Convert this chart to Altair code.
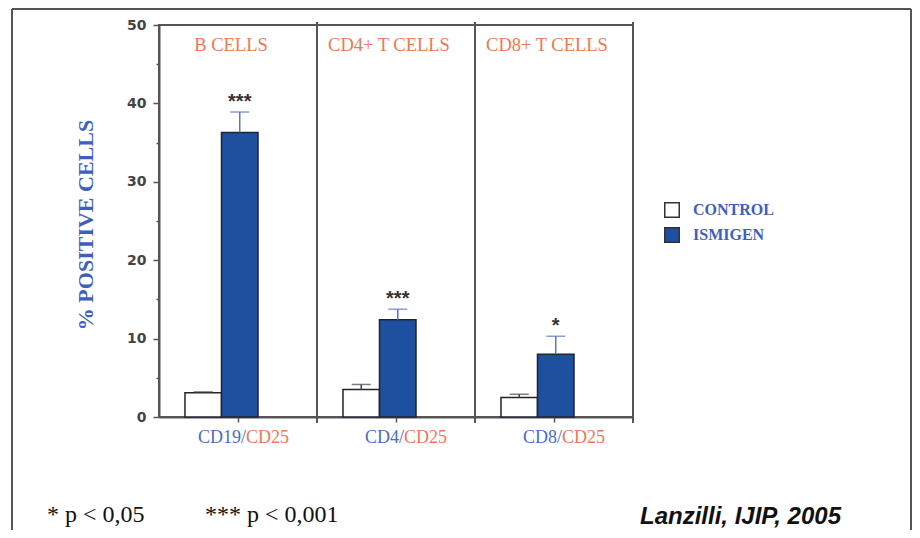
import altair as alt
import pandas as pd

# ---- data ----
groups = ["B CELLS", "CD4+ T CELLS", "CD8+ T CELLS"]
label_a = ["CD19/", "CD4/", "CD8/"]
label_b = ["CD25", "CD25", "CD25"]
series = ["CONTROL", "ISMIGEN"]
control_vals = [3.1, 3.5, 2.5]
control_err = [0.1, 0.65, 0.4]
ismigen_vals = [36.3, 12.4, 8.0]
ismigen_err = [2.6, 1.35, 2.3]
signif = ["***", "***", "*"]
y_ticks = [0, 5, 10, 15, 20, 25, 30, 35, 40, 45, 50]
y_title = "% POSITIVE CELLS"
footnote_1 = "* p < 0,05"
footnote_2 = "*** p < 0,001"
source = "Lanzilli, IJIP, 2005"

rows = []
for i, g in enumerate(groups):
    rows.append({"group": g, "series": "CONTROL", "value": control_vals[i],
                 "err": control_err[i], "sig": "", "la": label_a[i], "lb": label_b[i]})
    rows.append({"group": g, "series": "ISMIGEN", "value": ismigen_vals[i],
                 "err": ismigen_err[i], "sig": signif[i], "la": label_a[i], "lb": label_b[i]})
df = pd.DataFrame(rows)
df["top"] = df["value"] + df["err"]
gdf = pd.DataFrame({"group": groups, "la": label_a, "lb": label_b})

W, H = 474, 392
AX = "#555555"
BLUE_TXT = "#3F5FC0"
ORANGE = "#F07850"
SERIF = "Liberation Serif"

x_scale = alt.Scale(domain=groups, paddingInner=0, paddingOuter=0)
x_axis = alt.Axis(labels=False, title=None, ticks=True, tickSize=5,
                  tickColor=AX, tickWidth=1.5, domainColor=AX, domainWidth=2)
x_enc = alt.X("group:N", sort=groups, scale=x_scale, axis=x_axis)
# third, empty slot keeps the bar pair left of the panel centre, as in the reference
xo_enc = alt.XOffset("series:N",
                     scale=alt.Scale(domain=series + ["_"], paddingInner=0,
                                     paddingOuter=0.664, align=0.536))
y_scale = alt.Scale(domain=[0, 50], nice=False, zero=True)
y_axis = alt.Axis(values=y_ticks, title=None,
                  labelExpr="datum.value % 10 === 0 ? datum.label : ''",
                  tickSize={"condition": {"test": "datum.value % 10 === 0", "value": 6}, "value": 3},
                  tickColor=AX, tickWidth=1.5, domainColor=AX, domainWidth=2,
                  labelFont="DejaVu Sans", labelFontSize=14, labelFontWeight="bold",
                  labelColor="#444444", labelPadding=7, grid=False)

base = alt.Chart(df)

dividers = alt.Chart(gdf).mark_rule(color=AX, strokeWidth=2).encode(
    x=alt.X("group:N", sort=groups, bandPosition=1, scale=x_scale, axis=x_axis),
    y=alt.value(-3), y2=alt.value(H + 6))

bars = base.mark_bar(stroke="#222233", strokeWidth=1.5).encode(
    x=x_enc, xOffset=xo_enc,
    y=alt.Y("value:Q", scale=y_scale, axis=y_axis),
    fill=alt.Fill("series:N",
                  scale=alt.Scale(domain=series, range=["#FFFFFF", "#1E50A0"]),
                  legend=alt.Legend(title=None, orient="none", legendX=505, legendY=177,
                                    symbolType="square", symbolSize=210,
                                    symbolStrokeColor="#333333", symbolStrokeWidth=1.5,
                                    labelFont=SERIF, labelFontWeight="bold",
                                    labelFontSize=16, labelColor=BLUE_TXT,
                                    labelOffset=13, rowPadding=3, padding=0)))

err_color = alt.condition(alt.datum.series == "ISMIGEN", alt.value("#5A74C8"), alt.value("#444444"))
err_rule = base.mark_rule(strokeWidth=1.5).encode(
    x=x_enc, xOffset=xo_enc,
    y=alt.Y("value:Q", scale=y_scale, axis=y_axis), y2="top:Q", color=err_color)
err_cap = base.mark_tick(size=19, thickness=1.5).encode(
    x=x_enc, xOffset=xo_enc,
    y=alt.Y("top:Q", scale=y_scale, axis=y_axis), color=err_color)

stars = base.mark_text(font="Liberation Sans", fontWeight="bold", fontSize=20,
                       color="#333333", baseline="alphabetic", dy=-4).encode(
    x=x_enc, xOffset=xo_enc,
    y=alt.Y("top:Q", scale=y_scale, axis=y_axis), text="sig:N")

panel_titles = alt.Chart(gdf).mark_text(font=SERIF, fontSize=18.5, color=ORANGE,
                                        align="center", baseline="middle", dx=-7).encode(
    x=x_enc, y=alt.value(20), text="group:N")

lab_a = alt.Chart(gdf).mark_text(font=SERIF, fontSize=18, color="#4A6CC8",
                                 align="right", baseline="middle", dx=8).encode(
    x=x_enc, y=alt.value(H + 21), text="la:N")
lab_b = alt.Chart(gdf).mark_text(font=SERIF, fontSize=18, color=ORANGE,
                                 align="left", baseline="middle", dx=8).encode(
    x=x_enc, y=alt.value(H + 21), text="lb:N")

ytitle = alt.Chart(pd.DataFrame({"t": [y_title]})).mark_text(
    font=SERIF, fontWeight="bold", fontSize=22, color=BLUE_TXT,
    angle=270, align="center", baseline="middle").encode(
    x=alt.value(-73), y=alt.value(200), text="t:N")

fn1 = alt.Chart(pd.DataFrame({"t": [footnote_1]})).mark_text(
    font=SERIF, fontSize=24, color="#111111", align="left",
    baseline="alphabetic").encode(x=alt.value(-112), y=alt.value(497), text="t:N")
fn2 = alt.Chart(pd.DataFrame({"t": [footnote_2]})).mark_text(
    font=SERIF, fontSize=24, color="#111111", align="left",
    baseline="alphabetic").encode(x=alt.value(46), y=alt.value(497), text="t:N")
src = alt.Chart(pd.DataFrame({"t": [source]})).mark_text(
    font="Liberation Sans", fontWeight="bold", fontStyle="italic", fontSize=24,
    color="#111111", align="left", baseline="alphabetic").encode(
    x=alt.value(481), y=alt.value(499), text="t:N")

one = pd.DataFrame({"k": [0]})
frame_l = alt.Chart(one).mark_rule(color=AX, strokeWidth=2).encode(
    x=alt.value(-147), y=alt.value(-16), y2=alt.value(530))
frame_t = alt.Chart(one).mark_rule(color=AX, strokeWidth=2).encode(
    x=alt.value(-147), x2=alt.value(752), y=alt.value(-16))
frame_r = alt.Chart(one).mark_rule(color=AX, strokeWidth=2).encode(
    x=alt.value(752), y=alt.value(-16), y2=alt.value(530))

chart = alt.layer(
    dividers, bars, err_rule, err_cap, stars, panel_titles, lab_a, lab_b,
    ytitle, fn1, fn2, src, frame_l, frame_t, frame_r
).resolve_scale(x="shared").properties(
    width=W, height=H,
    autosize=alt.AutoSizeParams(type="none"),
    padding={"left": 151, "top": 17, "right": 279, "bottom": 113},
    background="white",
).configure_view(stroke=AX, strokeWidth=2)

chart.save("out.html", embed_options={"renderer": "svg", "actions": False})
